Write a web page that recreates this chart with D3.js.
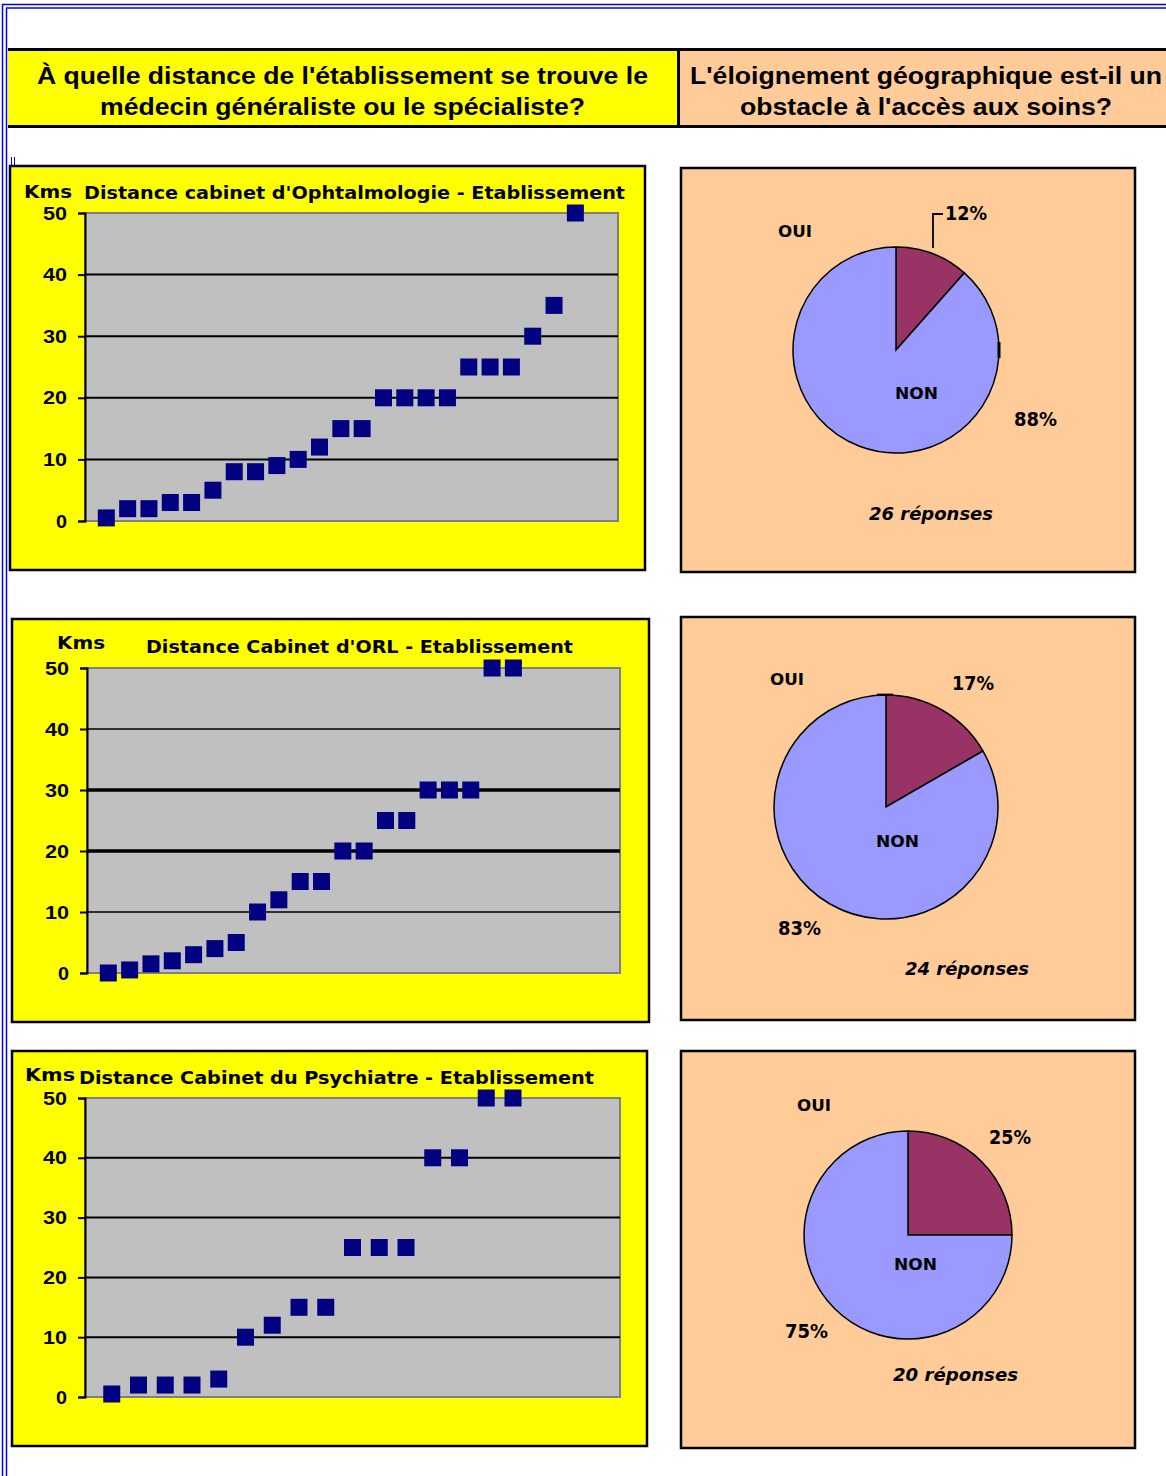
<!DOCTYPE html>
<html><head><meta charset="utf-8">
<script src="https://cdn.jsdelivr.net/npm/d3@7"></script>
<style>
html,body{margin:0;padding:0;background:#fff;}
svg{display:block;}
</style></head>
<body>
<script>
// ---------- DATA ----------
const headerLeft = ["À quelle distance de l'établissement se trouve le", "médecin généraliste ou le spécialiste?"];
const headerRight = ["L'éloignement géographique est-il un", "obstacle à l'accès aux soins?"];

const yTicks = [0, 10, 20, 30, 40, 50];
const yUnit = "Kms";

const scatterTitles = [
  "Distance cabinet d'Ophtalmologie - Etablissement",
  "Distance Cabinet d'ORL - Etablissement",
  "Distance Cabinet du Psychiatre - Etablissement"
];
const ophtaValues = [0.5, 2, 2, 3, 3, 5, 8, 8, 9, 10, 12, 15, 15, 20, 20, 20, 20, 25, 25, 25, 30, 35, 50];
const orlValues   = [0, 0.5, 1.5, 2, 3, 4, 5, 10, 12, 15, 15, 20, 20, 25, 25, 30, 30, 30, 50, 50];
const psyValues   = [0.5, 2, 2, 2, 3, 10, 12, 15, 15, 25, 25, 25, 40, 40, 50, 50];

const pieCategories = ["OUI", "NON"];
const pieOphta = [3, 23];
const pieOrl   = [4, 20];
const piePsy   = [5, 15];
const pieResponses = ["26 réponses", "24 réponses", "20 réponses"];

// ---------- LAYOUT ----------
const W = 1166, H = 1476;
const svg = d3.select("body").append("svg").attr("width", W).attr("height", H);
svg.append("rect").attr("width", W).attr("height", H).attr("fill", "#fff");

const blue = "#0000ff";
svg.append("line").attr("x1", 2).attr("x2", W).attr("y1", 4.5).attr("y2", 4.5).attr("stroke", blue).attr("stroke-width", 1.5);
svg.append("line").attr("x1", 6).attr("x2", W).attr("y1", 8).attr("y2", 8).attr("stroke", blue).attr("stroke-width", 1.5);
svg.append("line").attr("x1", 2.5).attr("x2", 2.5).attr("y1", 4).attr("y2", H).attr("stroke", blue).attr("stroke-width", 1.5);
svg.append("line").attr("x1", 6.5).attr("x2", 6.5).attr("y1", 8).attr("y2", H).attr("stroke", blue).attr("stroke-width", 1.5);
svg.append("line").attr("x1", 11.5).attr("x2", 11.5).attr("y1", 157).attr("y2", 166).attr("stroke", blue).attr("stroke-width", 1);
svg.append("line").attr("x1", 14.5).attr("x2", 14.5).attr("y1", 157).attr("y2", 166).attr("stroke", blue).attr("stroke-width", 1);

// ---------- HEADER ----------
const hdr = svg.append("g");
hdr.append("rect").attr("x", 8).attr("y", 49.5).attr("width", 670).attr("height", 77).attr("fill", "#ffff00");
hdr.append("rect").attr("x", 678).attr("y", 49.5).attr("width", W - 678).attr("height", 77).attr("fill", "#ffcc99");
hdr.append("line").attr("x1", 8).attr("x2", W).attr("y1", 49.5).attr("y2", 49.5).attr("stroke", "#000").attr("stroke-width", 3);
hdr.append("line").attr("x1", 8).attr("x2", W).attr("y1", 126.5).attr("y2", 126.5).attr("stroke", "#000").attr("stroke-width", 3);
hdr.append("line").attr("x1", 678.5).attr("x2", 678.5).attr("y1", 49).attr("y2", 127).attr("stroke", "#000").attr("stroke-width", 3);

const hdrLines = [
  {t: headerLeft[0], x1: 37, x2: 648, y: 76},
  {t: headerLeft[1], x1: 100, x2: 585, y: 107},
  {t: headerRight[0], x1: 690, x2: 1162, y: 76},
  {t: headerRight[1], x1: 740, x2: 1112, y: 107}
];
hdr.selectAll("text.h").data(hdrLines).join("text")
  .attr("x", d => d.x1).attr("y", d => d.y).attr("dy", "0.36em")
  .attr("textLength", d => d.x2 - d.x1).attr("lengthAdjust", "spacingAndGlyphs")
  .attr("font-family", "Liberation Sans, Arial, sans-serif").attr("font-weight", "bold")
  .attr("font-size", 23).attr("fill", "#000").text(d => d.t);

// ---------- SCATTER CHARTS ----------
const scatterConfigs = [
  {values: ophtaValues, title: scatterTitles[0], xMax: 25,
   box: {x: 10, y: 166, w: 635, h: 404}, plot: {x: 85, y: 213, w: 533, h: 308},
   kms: {x1: 24, x2: 72, y: 192}, ttl: {x1: 84, x2: 625, y: 193},
   grid: {10: 2, 20: 2, 30: 2, 40: 2}},
  {values: orlValues, title: scatterTitles[1], xMax: 25,
   box: {x: 12, y: 619, w: 637, h: 403}, plot: {x: 87, y: 668, w: 533, h: 305},
   kms: {x1: 57, x2: 105, y: 643}, ttl: {x1: 146, x2: 573, y: 647},
   grid: {10: 1.5, 20: 3.5, 30: 3.5, 40: 1.5}},
  {values: psyValues, title: scatterTitles[2], xMax: 20,
   box: {x: 12, y: 1051, w: 635, h: 395}, plot: {x: 85, y: 1098, w: 535, h: 299},
   kms: {x1: 25, x2: 75, y: 1075}, ttl: {x1: 79, x2: 594, y: 1078},
   grid: {10: 2, 20: 2, 30: 2, 40: 2}}
];

const chartFont = "DejaVu Sans, Verdana, sans-serif";

scatterConfigs.forEach(cfg => {
  const g = svg.append("g");
  g.append("rect").attr("x", cfg.box.x).attr("y", cfg.box.y).attr("width", cfg.box.w).attr("height", cfg.box.h)
    .attr("fill", "#ffff00").attr("stroke", "#000").attr("stroke-width", 2.5);

  const x = d3.scaleLinear().domain([0, cfg.xMax]).range([cfg.plot.x, cfg.plot.x + cfg.plot.w]);
  const y = d3.scaleLinear().domain([0, 50]).range([cfg.plot.y + cfg.plot.h, cfg.plot.y]);

  g.append("rect").attr("x", cfg.plot.x).attr("y", cfg.plot.y).attr("width", cfg.plot.w).attr("height", cfg.plot.h)
    .attr("fill", "#c0c0c0").attr("stroke", "#808080").attr("stroke-width", 2);

  g.selectAll("line.grid").data(yTicks.filter(t => t > 0 && t < 50)).join("line")
    .attr("x1", cfg.plot.x).attr("x2", cfg.plot.x + cfg.plot.w)
    .attr("y1", d => y(d)).attr("y2", d => y(d))
    .attr("stroke", "#000").attr("stroke-width", d => cfg.grid[d]);

  const axis = d3.axisLeft(y).tickValues(yTicks).tickSize(7).tickPadding(11).tickFormat(d3.format("d"));
  const ag = g.append("g").attr("transform", `translate(${cfg.plot.x},0)`).call(axis);
  ag.select(".domain").attr("stroke", "#000").attr("stroke-width", 2);
  ag.selectAll(".tick line").attr("stroke", "#000").attr("stroke-width", 2);
  ag.selectAll(".tick text").attr("font-family", "Liberation Sans Narrow, Liberation Sans, Arial, sans-serif").attr("font-weight", "bold")
    .attr("font-size", 19).attr("fill", "#000")
    .attr("textLength", d => d >= 10 ? 24 : 11).attr("lengthAdjust", "spacingAndGlyphs");

  const s = 17;
  g.selectAll("rect.pt").data(cfg.values).join("rect")
    .attr("x", (d, i) => x(i + 1) - s / 2).attr("y", d => y(d) - s / 2)
    .attr("width", s).attr("height", s).attr("fill", "#000080");

  g.append("text").attr("x", cfg.kms.x1).attr("y", cfg.kms.y).attr("dy", "0.36em")
    .attr("textLength", cfg.kms.x2 - cfg.kms.x1).attr("lengthAdjust", "spacingAndGlyphs")
    .attr("font-family", chartFont).attr("font-weight", "bold").attr("font-size", 17).text(yUnit);
  g.append("text").attr("x", cfg.ttl.x1).attr("y", cfg.ttl.y).attr("dy", "0.36em")
    .attr("textLength", cfg.ttl.x2 - cfg.ttl.x1).attr("lengthAdjust", "spacingAndGlyphs")
    .attr("font-family", chartFont).attr("font-weight", "bold").attr("font-size", 17).text(cfg.title);
});

// ---------- PIE CHARTS ----------
const pieConfigs = [
  {values: pieOphta, resp: pieResponses[0],
   box: {x: 681, y: 168, w: 454, h: 404}, c: [896, 350], r: 103,
   oui: [778, 231], ouiPct: [945, 213], non: [895, 393], nonPct: [1014, 419], respPos: [869, 993, 514],
   leader: [[933, 248], [933, 214], [943, 214]], stub: [[999, 342], [999, 358]]},
  {values: pieOrl, resp: pieResponses[1],
   box: {x: 681, y: 617, w: 454, h: 403}, c: [886, 807], r: 112,
   oui: [770, 679], ouiPct: [952, 683], non: [876, 841], nonPct: [778, 928], respPos: [905, 1029, 969],
   leader: [[877, 694.5], [893, 694.5]], stub: null},
  {values: piePsy, resp: pieResponses[2],
   box: {x: 681, y: 1051, w: 454, h: 397}, c: [908, 1235], r: 104,
   oui: [797, 1105], ouiPct: [989, 1137], non: [894, 1264], nonPct: [785, 1331], respPos: [893, 1018, 1375],
   leader: null, stub: null}
];
const pieColors = d3.scaleOrdinal().domain(pieCategories).range(["#993366", "#9999ff"]);
const pctFmt = (v, total) => Math.round(v / total * 100) + "%";

pieConfigs.forEach(cfg => {
  const g = svg.append("g");
  g.append("rect").attr("x", cfg.box.x).attr("y", cfg.box.y).attr("width", cfg.box.w).attr("height", cfg.box.h)
    .attr("fill", "#ffcc99").attr("stroke", "#000").attr("stroke-width", 2.5);

  const data = pieCategories.map((c, i) => ({cat: c, v: cfg.values[i]}));
  const total = d3.sum(cfg.values);
  const pie = d3.pie().value(d => d.v).sort(null);
  const arc = d3.arc().innerRadius(0).outerRadius(cfg.r);
  g.append("g").attr("transform", `translate(${cfg.c[0]},${cfg.c[1]})`)
    .selectAll("path").data(pie(data)).join("path")
    .attr("d", arc).attr("fill", d => pieColors(d.data.cat)).attr("stroke", "#000").attr("stroke-width", 1.5);

  const lbl = (txt, pos, size, italic) => g.append("text").attr("x", pos[0]).attr("y", pos[1]).attr("dy", "0.36em")
    .attr("font-family", chartFont).attr("font-weight", "bold").attr("font-size", size)
    .attr("font-style", italic ? "italic" : "normal").attr("fill", "#000").text(txt);

  lbl(pieCategories[0], cfg.oui, 16).attr("textLength", 34).attr("lengthAdjust", "spacingAndGlyphs");
  lbl(pieCategories[1], cfg.non, 16).attr("textLength", 43).attr("lengthAdjust", "spacingAndGlyphs");
  lbl(pctFmt(cfg.values[0], total), cfg.ouiPct, 20).attr("textLength", 42).attr("lengthAdjust", "spacingAndGlyphs");
  lbl(pctFmt(cfg.values[1], total), cfg.nonPct, 20).attr("textLength", 43).attr("lengthAdjust", "spacingAndGlyphs");
  lbl(cfg.resp, [cfg.respPos[0], cfg.respPos[2]], 17, true)
    .attr("textLength", cfg.respPos[1] - cfg.respPos[0]).attr("lengthAdjust", "spacingAndGlyphs");

  if (cfg.leader) g.append("path").attr("d", d3.line()(cfg.leader)).attr("fill", "none").attr("stroke", "#000").attr("stroke-width", 1.8);
  if (cfg.stub) g.append("path").attr("d", d3.line()(cfg.stub)).attr("fill", "none").attr("stroke", "#000").attr("stroke-width", 3);
});
</script>
</body></html>
